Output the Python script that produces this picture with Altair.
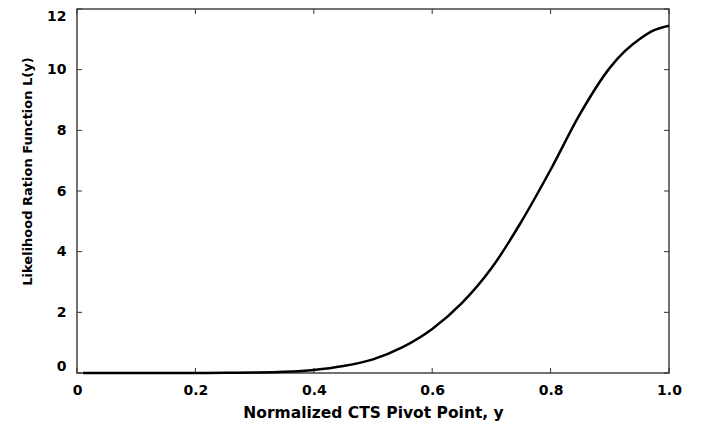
import altair as alt
import pandas as pd

# Curve values
pivot = [0.01, 0.1, 0.2, 0.25, 0.3, 0.35, 0.4, 0.45, 0.5, 0.55, 0.6, 0.65,
         0.7, 0.75, 0.8, 0.85, 0.9, 0.925, 0.95, 0.975, 1.0]
likelihood = [0.0, 0.0, 0.0, 0.005, 0.015, 0.04, 0.1, 0.23, 0.45, 0.85, 1.45, 2.3,
              3.45, 4.97, 6.7, 8.55, 10.06, 10.6, 11.0, 11.3, 11.45]

x_ticks = [0.0, 0.2, 0.4, 0.6, 0.8, 1.0]
y_ticks = [0, 2, 4, 6, 8, 10, 12]

FONT = "DejaVu Sans"

curve = pd.DataFrame({"y": pivot, "L": likelihood})
xt = pd.DataFrame({"v": x_ticks})
yt = pd.DataFrame({"v": y_ticks})

xscale = alt.Scale(domain=[0, 1], nice=False, zero=False)
yscale = alt.Scale(domain=[0, 12], nice=False, zero=False)

line = alt.Chart(curve).mark_line(color="black", strokeWidth=2.5, interpolate="monotone").encode(
    x=alt.X("y:Q", scale=xscale,
            axis=alt.Axis(values=x_ticks, title="Normalized CTS Pivot Point, y",
                          ticks=False, domain=False, grid=False, labelFont=FONT, labelFontWeight="bold",
                          labelFontSize=14, labelColor="black", labelPadding=10, labelFlush=False,
                          labelExpr="datum.value == 0 ? '0' : format(datum.value, '.1f')",
                          titleFont=FONT, titleFontWeight="bold", titleFontSize=15.5, titleColor="black",
                          titlePadding=8)),
    y=alt.Y("L:Q", scale=yscale,
            axis=alt.Axis(values=y_ticks, title="Likelihood Ration Function L(y)",
                          ticks=False, domain=False, grid=False, labelFont=FONT, labelFontWeight="bold",
                          labelFontSize=14, labelColor="black", labelPadding=11, labelFlush=True,
                          titleFont=FONT, titleFontWeight="bold", titleFontSize=13, titleColor="black",
                          titlePadding=12, titleY=162)),
)

tick_color = "#333333"
bottom_ticks = alt.Chart(xt).mark_rule(color=tick_color, strokeWidth=1, y2Offset=-5).encode(
    x=alt.X("v:Q", scale=xscale), y=alt.datum(0, scale=yscale), y2=alt.datum(0))
top_ticks = alt.Chart(xt).mark_rule(color=tick_color, strokeWidth=1, y2Offset=5).encode(
    x=alt.X("v:Q", scale=xscale), y=alt.datum(12, scale=yscale), y2=alt.datum(12))
left_ticks = alt.Chart(yt).mark_rule(color=tick_color, strokeWidth=1, x2Offset=5).encode(
    y=alt.Y("v:Q", scale=yscale), x=alt.datum(0, scale=xscale), x2=alt.datum(0))
right_ticks = alt.Chart(yt).mark_rule(color=tick_color, strokeWidth=1, x2Offset=-5).encode(
    y=alt.Y("v:Q", scale=yscale), x=alt.datum(1, scale=xscale), x2=alt.datum(1))

chart = alt.layer(bottom_ticks, top_ticks, left_ticks, right_ticks, line).properties(
    width=592, height=364,
    autosize=alt.AutoSizeParams(type="none"),
    padding={"left": 69, "top": 1, "right": 20, "bottom": 50},
    background="white",
).configure_view(stroke="#444444", strokeWidth=1.5)

chart.save("out.html", embed_options={"renderer": "svg", "actions": False})
